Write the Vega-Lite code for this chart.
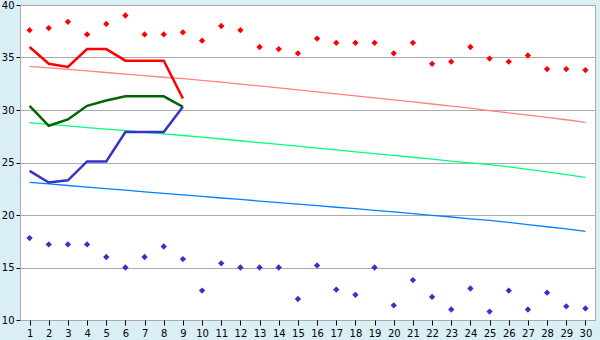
{
  "$schema": "https://vega.github.io/schema/vega-lite/v6.json",
  "width": 575,
  "height": 315,
  "autosize": {"type": "none"},
  "padding": {"left": 20, "top": 5, "right": 5, "bottom": 20},
  "background": "#daeef5",
  "config": {
    "view": {"fill": "white", "stroke": "#aaaaaa", "strokeWidth": 1},
    "axis": {"labelFont": "DejaVu Sans", "labelFontSize": 10, "labelColor": "#000000", "title": null}
  },
  "datasets": {
    "thin": [
      {"day": 1, "value": 34.16, "series": "thinHi"}, {"day": 2, "value": 34.02, "series": "thinHi"}, {"day": 3, "value": 33.87, "series": "thinHi"}, {"day": 4, "value": 33.72, "series": "thinHi"}, {"day": 5, "value": 33.57, "series": "thinHi"}, {"day": 6, "value": 33.42, "series": "thinHi"}, {"day": 7, "value": 33.27, "series": "thinHi"}, {"day": 8, "value": 33.12, "series": "thinHi"}, {"day": 9, "value": 32.98, "series": "thinHi"}, {"day": 10, "value": 32.83, "series": "thinHi"},
      {"day": 11, "value": 32.65, "series": "thinHi"}, {"day": 12, "value": 32.47, "series": "thinHi"}, {"day": 13, "value": 32.29, "series": "thinHi"}, {"day": 14, "value": 32.10, "series": "thinHi"}, {"day": 15, "value": 31.91, "series": "thinHi"}, {"day": 16, "value": 31.72, "series": "thinHi"}, {"day": 17, "value": 31.53, "series": "thinHi"}, {"day": 18, "value": 31.34, "series": "thinHi"}, {"day": 19, "value": 31.16, "series": "thinHi"}, {"day": 20, "value": 30.97, "series": "thinHi"},
      {"day": 21, "value": 30.77, "series": "thinHi"}, {"day": 22, "value": 30.57, "series": "thinHi"}, {"day": 23, "value": 30.37, "series": "thinHi"}, {"day": 24, "value": 30.17, "series": "thinHi"}, {"day": 25, "value": 29.95, "series": "thinHi"}, {"day": 26, "value": 29.73, "series": "thinHi"}, {"day": 27, "value": 29.51, "series": "thinHi"}, {"day": 28, "value": 29.29, "series": "thinHi"}, {"day": 29, "value": 29.07, "series": "thinHi"}, {"day": 30, "value": 28.83, "series": "thinHi"},
      {"day": 1, "value": 28.79, "series": "thinMid"}, {"day": 2, "value": 28.64, "series": "thinMid"}, {"day": 3, "value": 28.49, "series": "thinMid"}, {"day": 4, "value": 28.33, "series": "thinMid"}, {"day": 5, "value": 28.18, "series": "thinMid"}, {"day": 6, "value": 28.03, "series": "thinMid"}, {"day": 7, "value": 27.88, "series": "thinMid"}, {"day": 8, "value": 27.72, "series": "thinMid"}, {"day": 9, "value": 27.57, "series": "thinMid"}, {"day": 10, "value": 27.41, "series": "thinMid"},
      {"day": 11, "value": 27.24, "series": "thinMid"}, {"day": 12, "value": 27.07, "series": "thinMid"}, {"day": 13, "value": 26.89, "series": "thinMid"}, {"day": 14, "value": 26.72, "series": "thinMid"}, {"day": 15, "value": 26.55, "series": "thinMid"}, {"day": 16, "value": 26.37, "series": "thinMid"}, {"day": 17, "value": 26.20, "series": "thinMid"}, {"day": 18, "value": 26.02, "series": "thinMid"}, {"day": 19, "value": 25.85, "series": "thinMid"}, {"day": 20, "value": 25.67, "series": "thinMid"},
      {"day": 21, "value": 25.50, "series": "thinMid"}, {"day": 22, "value": 25.32, "series": "thinMid"}, {"day": 23, "value": 25.14, "series": "thinMid"}, {"day": 24, "value": 24.97, "series": "thinMid"}, {"day": 25, "value": 24.79, "series": "thinMid"}, {"day": 26, "value": 24.58, "series": "thinMid"}, {"day": 27, "value": 24.35, "series": "thinMid"}, {"day": 28, "value": 24.10, "series": "thinMid"}, {"day": 29, "value": 23.85, "series": "thinMid"}, {"day": 30, "value": 23.59, "series": "thinMid"},
      {"day": 1, "value": 23.11, "series": "thinLo"}, {"day": 2, "value": 22.96, "series": "thinLo"}, {"day": 3, "value": 22.81, "series": "thinLo"}, {"day": 4, "value": 22.66, "series": "thinLo"}, {"day": 5, "value": 22.51, "series": "thinLo"}, {"day": 6, "value": 22.36, "series": "thinLo"}, {"day": 7, "value": 22.21, "series": "thinLo"}, {"day": 8, "value": 22.06, "series": "thinLo"}, {"day": 9, "value": 21.92, "series": "thinLo"}, {"day": 10, "value": 21.77, "series": "thinLo"},
      {"day": 11, "value": 21.62, "series": "thinLo"}, {"day": 12, "value": 21.48, "series": "thinLo"}, {"day": 13, "value": 21.33, "series": "thinLo"}, {"day": 14, "value": 21.18, "series": "thinLo"}, {"day": 15, "value": 21.04, "series": "thinLo"}, {"day": 16, "value": 20.89, "series": "thinLo"}, {"day": 17, "value": 20.74, "series": "thinLo"}, {"day": 18, "value": 20.60, "series": "thinLo"}, {"day": 19, "value": 20.45, "series": "thinLo"}, {"day": 20, "value": 20.30, "series": "thinLo"},
      {"day": 21, "value": 20.14, "series": "thinLo"}, {"day": 22, "value": 19.97, "series": "thinLo"}, {"day": 23, "value": 19.81, "series": "thinLo"}, {"day": 24, "value": 19.64, "series": "thinLo"}, {"day": 25, "value": 19.48, "series": "thinLo"}, {"day": 26, "value": 19.30, "series": "thinLo"}, {"day": 27, "value": 19.09, "series": "thinLo"}, {"day": 28, "value": 18.88, "series": "thinLo"}, {"day": 29, "value": 18.67, "series": "thinLo"}, {"day": 30, "value": 18.45, "series": "thinLo"}
    ],
    "thick": [
      {"day": 1, "value": 36.0, "series": "hi"}, {"day": 2, "value": 34.4, "series": "hi"}, {"day": 3, "value": 34.1, "series": "hi"}, {"day": 4, "value": 35.8, "series": "hi"}, {"day": 5, "value": 35.8, "series": "hi"}, {"day": 6, "value": 34.7, "series": "hi"}, {"day": 7, "value": 34.7, "series": "hi"}, {"day": 8, "value": 34.7, "series": "hi"}, {"day": 9, "value": 31.1, "series": "hi"},
      {"day": 1, "value": 30.4, "series": "mid"}, {"day": 2, "value": 28.5, "series": "mid"}, {"day": 3, "value": 29.1, "series": "mid"}, {"day": 4, "value": 30.4, "series": "mid"}, {"day": 5, "value": 30.9, "series": "mid"}, {"day": 6, "value": 31.3, "series": "mid"}, {"day": 7, "value": 31.3, "series": "mid"}, {"day": 8, "value": 31.3, "series": "mid"}, {"day": 9, "value": 30.3, "series": "mid"},
      {"day": 1, "value": 24.2, "series": "lo"}, {"day": 2, "value": 23.1, "series": "lo"}, {"day": 3, "value": 23.3, "series": "lo"}, {"day": 4, "value": 25.1, "series": "lo"}, {"day": 5, "value": 25.1, "series": "lo"}, {"day": 6, "value": 27.9, "series": "lo"}, {"day": 7, "value": 27.9, "series": "lo"}, {"day": 8, "value": 27.9, "series": "lo"}, {"day": 9, "value": 30.3, "series": "lo"}
    ],
    "points": [
      {"day": 1, "value": 37.6, "series": "recHi"}, {"day": 2, "value": 37.8, "series": "recHi"}, {"day": 3, "value": 38.4, "series": "recHi"}, {"day": 4, "value": 37.2, "series": "recHi"}, {"day": 5, "value": 38.2, "series": "recHi"}, {"day": 6, "value": 39.0, "series": "recHi"}, {"day": 7, "value": 37.2, "series": "recHi"}, {"day": 8, "value": 37.2, "series": "recHi"}, {"day": 9, "value": 37.4, "series": "recHi"}, {"day": 10, "value": 36.6, "series": "recHi"},
      {"day": 11, "value": 38.0, "series": "recHi"}, {"day": 12, "value": 37.6, "series": "recHi"}, {"day": 13, "value": 36.0, "series": "recHi"}, {"day": 14, "value": 35.8, "series": "recHi"}, {"day": 15, "value": 35.4, "series": "recHi"}, {"day": 16, "value": 36.8, "series": "recHi"}, {"day": 17, "value": 36.4, "series": "recHi"}, {"day": 18, "value": 36.4, "series": "recHi"}, {"day": 19, "value": 36.4, "series": "recHi"}, {"day": 20, "value": 35.4, "series": "recHi"},
      {"day": 21, "value": 36.4, "series": "recHi"}, {"day": 22, "value": 34.4, "series": "recHi"}, {"day": 23, "value": 34.6, "series": "recHi"}, {"day": 24, "value": 36.0, "series": "recHi"}, {"day": 25, "value": 34.9, "series": "recHi"}, {"day": 26, "value": 34.6, "series": "recHi"}, {"day": 27, "value": 35.2, "series": "recHi"}, {"day": 28, "value": 33.9, "series": "recHi"}, {"day": 29, "value": 33.9, "series": "recHi"}, {"day": 30, "value": 33.8, "series": "recHi"},
      {"day": 1, "value": 17.8, "series": "recLo"}, {"day": 2, "value": 17.2, "series": "recLo"}, {"day": 3, "value": 17.2, "series": "recLo"}, {"day": 4, "value": 17.2, "series": "recLo"}, {"day": 5, "value": 16.0, "series": "recLo"}, {"day": 6, "value": 15.0, "series": "recLo"}, {"day": 7, "value": 16.0, "series": "recLo"}, {"day": 8, "value": 17.0, "series": "recLo"}, {"day": 9, "value": 15.8, "series": "recLo"}, {"day": 10, "value": 12.8, "series": "recLo"},
      {"day": 11, "value": 15.4, "series": "recLo"}, {"day": 12, "value": 15.0, "series": "recLo"}, {"day": 13, "value": 15.0, "series": "recLo"}, {"day": 14, "value": 15.0, "series": "recLo"}, {"day": 15, "value": 12.0, "series": "recLo"}, {"day": 16, "value": 15.2, "series": "recLo"}, {"day": 17, "value": 12.9, "series": "recLo"}, {"day": 18, "value": 12.4, "series": "recLo"}, {"day": 19, "value": 15.0, "series": "recLo"}, {"day": 20, "value": 11.4, "series": "recLo"},
      {"day": 21, "value": 13.8, "series": "recLo"}, {"day": 22, "value": 12.2, "series": "recLo"}, {"day": 23, "value": 11.0, "series": "recLo"}, {"day": 24, "value": 13.0, "series": "recLo"}, {"day": 25, "value": 10.8, "series": "recLo"}, {"day": 26, "value": 12.8, "series": "recLo"}, {"day": 27, "value": 11.0, "series": "recLo"}, {"day": 28, "value": 12.6, "series": "recLo"}, {"day": 29, "value": 11.3, "series": "recLo"}, {"day": 30, "value": 11.1, "series": "recLo"}
    ]
  },
  "encoding": {
    "x": {
      "field": "day", "type": "ordinal",
      "scale": {"type": "point", "padding": 0.5},
      "axis": {"labelAngle": 0, "domain": false, "grid": false, "ticks": true, "tickSize": 5, "tickColor": "#000000", "labelPadding": 3}
    },
    "y": {
      "field": "value", "type": "quantitative",
      "scale": {"domain": [10, 40], "nice": false, "zero": false},
      "axis": {"values": [10, 15, 20, 25, 30, 35, 40], "grid": true, "gridColor": "#aaaaaa", "gridOpacity": 1, "domain": true, "domainColor": "#aaaaaa", "tickSize": 4, "tickColor": "#000000", "labelPadding": 2}
    },
    "color": {
      "field": "series", "type": "nominal", "legend": null,
      "scale": {
        "domain": ["thinHi", "thinMid", "thinLo", "hi", "mid", "lo", "recHi", "recLo"],
        "range": ["#ff8080", "#00ff80", "#0080ff", "#ff0000", "#006600", "#3333cc", "#ff0000", "#3333cc"]
      }
    }
  },
  "layer": [
    {"data": {"name": "thin"}, "mark": {"type": "line", "strokeWidth": 1.3}},
    {"data": {"name": "thick"}, "mark": {"type": "line", "strokeWidth": 2.5}},
    {"data": {"name": "points"}, "mark": {"type": "point", "shape": "diamond", "filled": true, "size": 40, "opacity": 1}}
  ]
}
